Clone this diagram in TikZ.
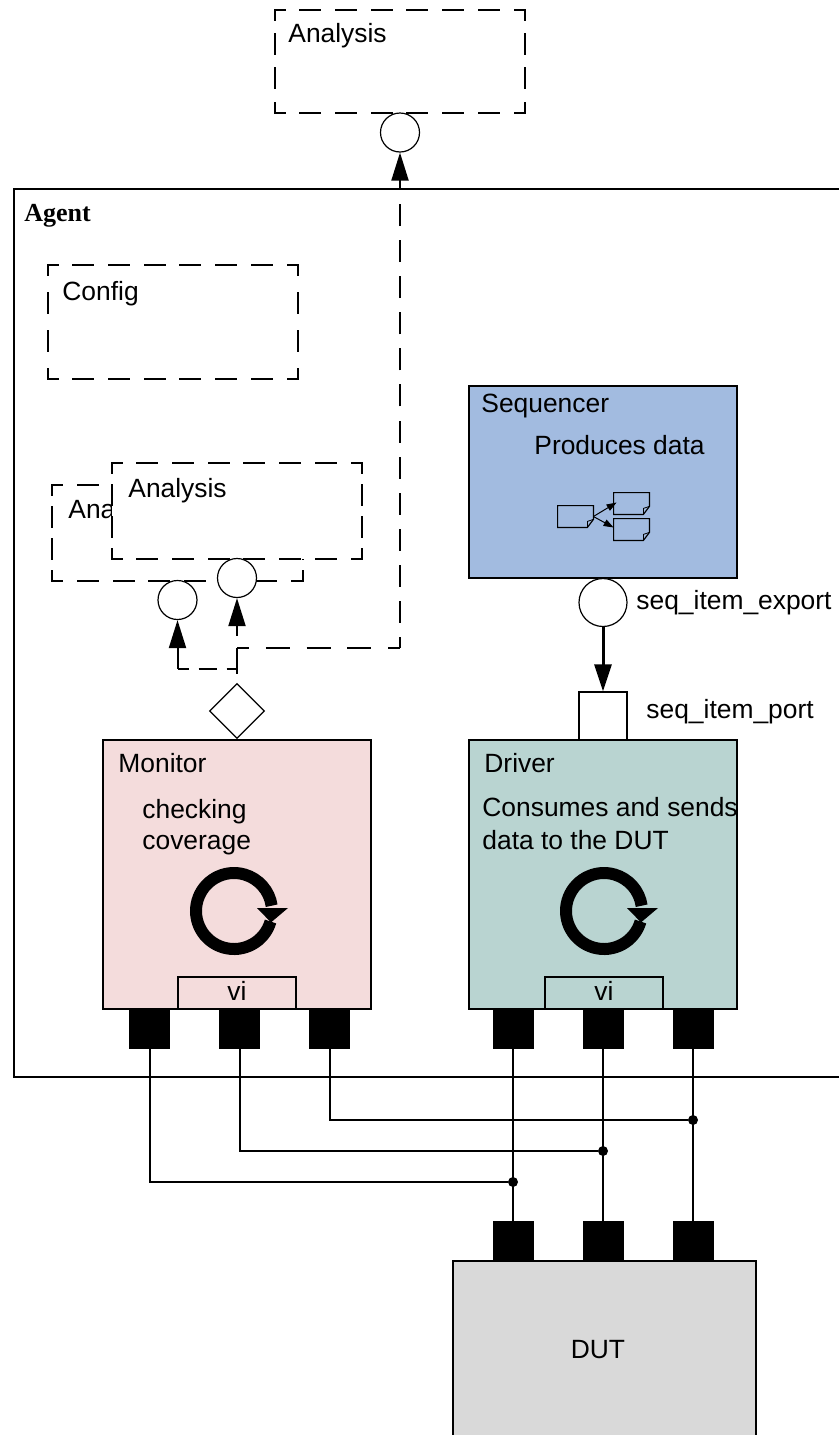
\documentclass[tikz,border=0pt]{standalone}
\usepackage{fontspec}
\setmainfont{Liberation Sans}
\newfontfamily\agentfont{Liberation Serif}
\usetikzlibrary{arrows.meta,shapes.geometric}

\definecolor{monitorpink}{HTML}{F4DCDC}
\definecolor{driverteal}{HTML}{B9D4D1}
\definecolor{seqblue}{HTML}{A2BBE0}
\definecolor{dutgrey}{HTML}{D9D9D9}

\tikzset{
  blockbox/.style={draw, line width=1pt, inner sep=0pt},
  dashbox/.style={fill=white, inner sep=0pt},
  portcircle/.style={draw, fill=white, circle, line width=0.6pt, inner sep=0pt, minimum size=19.5pt},
  portsquare/.style={fill=black, inner sep=0pt, minimum width=20.5pt, minimum height=20pt},
  dotnode/.style={fill=black, circle, inner sep=0pt, minimum size=5pt},
  docbox/.style={inner sep=0pt, minimum width=17.5pt, minimum height=10.5pt},
  txt/.style={anchor=base west, inner sep=0pt, font=\fontsize{13.2}{16}\selectfont},
  txtmid/.style={anchor=base, inner sep=0pt, font=\fontsize{13.2}{16}\selectfont},
  bigarrow/.style={-{Triangle[length=14pt,width=8.5pt]}},
  wire/.style={line width=0.6pt}
}

% dashed frame round a node, each side fitted on its own
\newcommand\dashframe[2]{
  \draw[line width=1pt, line cap=rect, dash pattern=on 10pt off 7.85pt, dash phase=5pt]
    (#1.north west) -- (#1.north east) (#1.south west) -- (#1.south east);
  \draw[line width=1pt, line cap=rect, dash pattern=on 10pt off #2, dash phase=5pt]
    (#1.north west) -- (#1.south west) (#1.north east) -- (#1.south east);
}

% turning arrow drawn on a block
\newcommand\loopmark[1]{
  \draw[line width=6pt] (#1) ++(-16:19pt) arc[start angle=-16, end angle=-352, radius=19pt];
  \fill (#1) ++(11.5pt,1.5pt) -- +(15.5pt,0pt) -- +(7pt,-7.2pt) -- cycle;
}

% small page with a turned corner
\newcommand\docmark[2]{
  \node[docbox] (#1) at (#2) {};
  \draw[line width=0.6pt] (#1.north west) -- (#1.north east) -- ([yshift=4pt]#1.south east)
    -- ([xshift=-3pt]#1.south east) -- (#1.south west) -- cycle;
  \draw[line width=0.4pt] ([yshift=4pt]#1.south east) -- ([xshift=-3pt,yshift=3pt]#1.south east) -- ([xshift=-3pt]#1.south east);
}

\begin{document}
\begin{tikzpicture}[x=0.5pt,y=-0.5pt]
  \useasboundingbox (0,0) rectangle (839,1435);

  % agent frame runs off the right edge
  \node[blockbox, line width=0.8pt, minimum width=430pt, minimum height=444pt] (agent) at (444,633) {};
  \node[anchor=base west, inner sep=0pt, font=\agentfont\bfseries\fontsize{13}{16}\selectfont] (agentText) at (24,221) {Agent};

  % dashed blocks
  \node[dashbox, minimum width=125pt, minimum height=51.5pt] (topAnalysis) at (400,61.5) {};
  \dashframe{topAnalysis}{7.2pt}
  \node[txt] (topAnalysisText) at (288,42) {Analysis};
  \node[dashbox, minimum width=125pt, minimum height=57pt] (config) at (173,322) {};
  \dashframe{config}{9pt}
  \node[txt] (configText) at (62,300) {Config};
  \node[dashbox, minimum width=125pt, minimum height=48pt] (backAnalysis) at (177.5,533) {};
  \dashframe{backAnalysis}{6pt}
  \node[txt] (backAnalysisText) at (68,518) {Analysis};
  \node[dashbox, minimum width=125pt, minimum height=48pt] (frontAnalysis) at (237,511) {};
  \dashframe{frontAnalysis}{6pt}
  \node[txt] (frontAnalysisText) at (128,497) {Analysis};

  % analysis ports
  \node[portcircle] (topCircle) at (400,132.5) {};
  \node[portcircle] (backCircle) at (177.5,600) {};
  \node[portcircle] (frontCircle) at (237,578) {};
  \node[draw, fill=white, diamond, aspect=1, line width=0.6pt, inner sep=0pt, minimum size=27.5pt] (monDiamond) at (237,711) {};

  \coordinate (bendMid) at (237,648);
  \coordinate (bendRight) at (400,648);
  \coordinate (bendLow) at (237,668.5);
  \coordinate (bendBack) at (177.5,668.5);

  \draw[line width=1pt, bigarrow, dash pattern=on 13pt off 6pt, dash phase=14.5pt] (monDiamond.north) -- (frontCircle.south);
  \draw[line width=1pt, dash pattern=on 9pt off 5pt, dash phase=3.5pt] (bendBack) -- (bendLow);
  \draw[line width=1pt, bigarrow] (bendBack) -- (backCircle.south);
  \draw[line width=1pt, dash pattern=on 12pt off 8.375pt, dash phase=6pt] (bendMid) -- (bendRight);
  \draw[line width=1pt, bigarrow, dash pattern=on 11pt off 7.04pt, dash phase=5.5pt] (bendRight) -- (topCircle.south);

  % sequencer
  \node[blockbox, fill=seqblue, line width=1.3pt, minimum width=134pt, minimum height=96pt] (sequencer) at (603,482) {};
  \node[txt] (sequencerText) at (481,412) {Sequencer};
  \node[txt] (producesText) at (534,454) {Produces data};
  \docmark{docA}{575.5,516.5}
  \docmark{docB}{631.5,503.5}
  \docmark{docC}{631.5,529.5}
  \draw[line width=0.5pt, -{Triangle[length=5pt,width=3.5pt]}] (docA.east) -- ([xshift=1.5pt,yshift=0.5pt]docB.west);
  \draw[line width=0.5pt, -{Triangle[length=5pt,width=3.5pt]}] (docA.east) -- ([yshift=1pt]docC.west);

  \node[portcircle, minimum size=24pt] (exportCircle) at (603,602.5) {};
  \node[txt] (exportText) at (636,609) {seq\_item\_export};
  \node[draw, fill=white, line width=0.6pt, inner sep=0pt, minimum width=24pt, minimum height=24pt] (driverPort) at (603,716) {};
  \node[txt] (portText) at (646,718) {seq\_item\_port};
  \draw[line width=1.5pt, -{Triangle[length=13.5pt,width=8.5pt]}] (exportCircle.south) -- (driverPort.north);

  % monitor
  \node[blockbox, fill=monitorpink, minimum width=134pt, minimum height=134.5pt] (monitor) at (237,874.5) {};
  \node[txt] (monitorText) at (118,772) {Monitor};
  \node[txt] (checkingText) at (142,818) {checking};
  \node[txt] (coverageText) at (142,849) {coverage};
  \loopmark{234,911}
  \node[draw, line width=0.6pt, inner sep=0pt, minimum width=59pt, minimum height=16pt] (monVi) at (237,993) {};
  \node[txtmid] (monViText) at (237,1000) {vi};

  % driver
  \node[blockbox, fill=driverteal, line width=1.3pt, minimum width=134pt, minimum height=134.5pt] (driver) at (603,874.5) {};
  \node[txt] (driverText) at (484,772) {Driver};
  \node[txt] (consumesText) at (482,816) {Consumes and sends};
  \node[txt] (dataText) at (482,849) {data to the DUT};
  \loopmark{604,911}
  \node[draw, line width=0.6pt, inner sep=0pt, minimum width=59pt, minimum height=16pt] (drvVi) at (604,993) {};
  \node[txtmid] (drvViText) at (604,1000) {vi};

  % DUT
  \node[blockbox, fill=dutgrey, minimum width=151.5pt, minimum height=92pt] (dut) at (604.5,1353) {};
  \node[txtmid] (dutText) at (598,1358) {DUT};

  % pins
  \foreach \name/\posx in {monA/149.5, monB/239.5, monC/329.5, drvA/513, drvB/603, drvC/693}
    \node[portsquare] (\name) at (\posx,1029) {};
  \foreach \name/\posx in {dutA/513, dutB/603, dutC/693}
    \node[portsquare] (\name) at (\posx,1241) {};

  \foreach \name in {A,B,C}
    \draw[wire] (drv\name.south) -- (dut\name.north);

  \node[dotnode] (dotA) at (513,1182) {};
  \node[dotnode] (dotB) at (603,1151) {};
  \node[dotnode] (dotC) at (693,1120) {};

  \draw[wire] ([xshift=0.25pt]monA.south) |- (dotA);
  \draw[wire] ([xshift=0.25pt]monB.south) |- (dotB);
  \draw[wire] ([xshift=0.25pt]monC.south) |- (dotC);

\end{tikzpicture}
\end{document}
